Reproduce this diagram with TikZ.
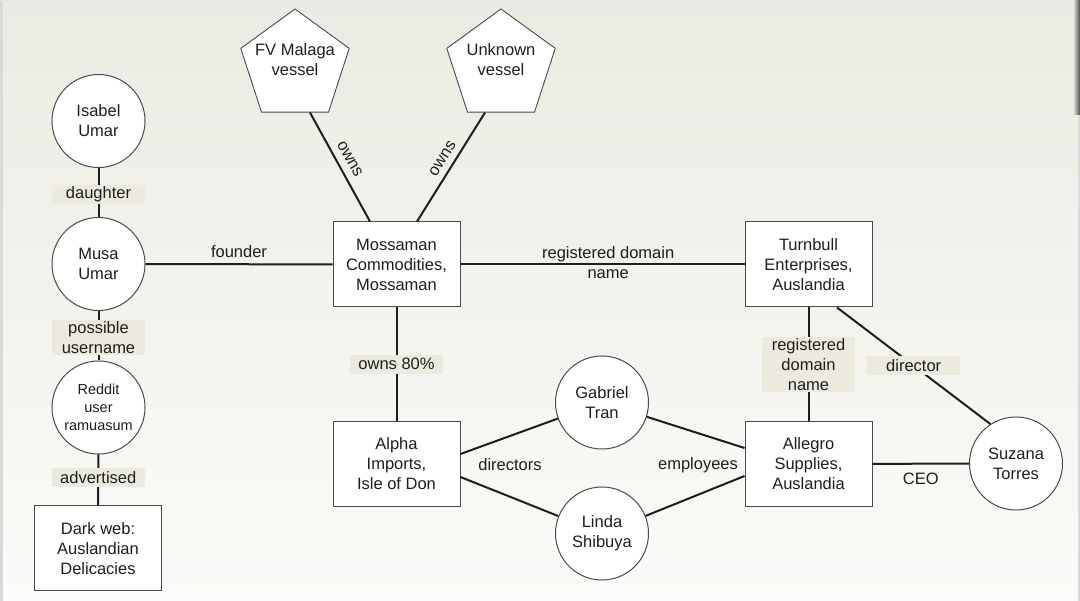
\documentclass[tikz,border=0pt]{standalone}
\usepackage{fontspec}
\setmainfont{Liberation Sans}
\usetikzlibrary{shapes.geometric}
\definecolor{bgtop}{HTML}{EBEAE2}
\definecolor{bgbot}{HTML}{FBFBF9}
\definecolor{lblbg}{HTML}{ECEADF}
\definecolor{ink}{HTML}{1E1E1E}
\definecolor{edgec}{HTML}{4A4A4A}
\begin{document}
\begin{tikzpicture}[x=1pt,y=-1pt,
  base/.style={font=\fontsize{16.5}{20}\selectfont, text=ink, align=center},
  person/.style={base, circle, draw=edgec, line width=1pt, fill=white, minimum size=93pt, inner sep=0pt},
  org/.style={base, rectangle, draw=edgec, line width=1pt, fill=white, minimum width=127pt, minimum height=85pt, inner sep=0pt},
  vessel/.style={regular polygon, regular polygon sides=5, draw=edgec, line width=0.9pt, fill=white, minimum size=114pt, inner sep=0pt},
  conn/.style={draw=ink, line width=2pt},
  lbl/.style={base, fill=lblbg, minimum width=93pt, minimum height=19pt, inner xsep=0pt, inner ysep=1.5pt},
  plain/.style={base, inner sep=2pt}
]
\useasboundingbox (0,0) rectangle (1080,601);
\shade[top color=bgtop, bottom color=bgbot] (0,0) rectangle (1080,601);
\fill[gray!30] (0,0) rectangle (2.5,601);
\fill[gray!20] (0,0) rectangle (1080,1.5);
\shade[left color=bgtop, right color=black!70] (1073,0) rectangle (1080,115);
\fill[gray!30] (1078,115) rectangle (1080,601);

% nodes
\node[person] (isabel) at (98.5,121) {Isabel\\Umar};
\node[person] (musa) at (98.5,264) {Musa\\Umar};
\node[person, font=\fontsize{14.5}{18}\selectfont] (reddit) at (98.5,407.5) {Reddit\\user\\ramuasum};
\node[org] (dark) at (98,548.5) {Dark web:\\Auslandian\\Delicacies};
\node[org] (moss) at (396.5,264.5) {Mossaman\\Commodities,\\Mossaman};
\node[org] (turn) at (808.5,264.5) {Turnbull\\Enterprises,\\Auslandia};
\node[org] (alpha) at (396.5,464) {Alpha\\Imports,\\Isle of Don};
\node[org] (allegro) at (808.5,464) {Allegro\\Supplies,\\Auslandia};
\node[person] (gabriel) at (602,402.5) {Gabriel\\Tran};
\node[person] (linda) at (602,533.5) {Linda\\Shibuya};
\node[person] (suzana) at (1016,463.5) {Suzana\\Torres};
\node[vessel, label={[base, yshift=6pt]center:FV Malaga\\vessel}] (fv) at (295,66) {};
\node[vessel, label={[base, yshift=6pt]center:Unknown\\vessel}] (unk) at (501,66) {};

% connectors
\draw[conn] (isabel) -- node[lbl, pos=0.54] {daughter} (musa);
\draw[conn] (musa) -- node[plain, above=4pt, pos=0.5] {founder} (moss);
\draw[conn] (musa) -- node[lbl, pos=0.53] {possible\\username} (reddit);
\draw[conn] (reddit) -- node[lbl, pos=0.45] {advertised} (dark);
\draw[conn] ([xshift=15pt]fv.south) -- node[plain, sloped, above=5pt, pos=0.48] {owns} ([xshift=-26.5pt]moss.north);
\draw[conn] ([xshift=20.5pt]moss.north) -- node[plain, sloped, above=4pt, pos=0.52] {owns} ([xshift=-16pt]unk.south);
\draw[conn] (moss) -- node[plain, pos=0.52, yshift=2pt] {registered domain\\name} (turn);
\draw[conn] (moss) -- node[lbl] {owns 80\%} (alpha);
\draw[conn] (turn) -- node[lbl] {registered\\domain\\name} (allegro);
\draw[conn] ([xshift=28.5pt]turn.south) -- node[lbl, pos=0.5] {director} (suzana.123);
\draw[conn] (allegro) -- node[plain, below=6pt] {CEO} (suzana);
\draw[conn] ([yshift=10pt]alpha.east) -- (gabriel);
\draw[conn] ([yshift=-13pt]alpha.east) -- (linda);
\draw[conn] (gabriel) -- ([yshift=16pt]allegro.west);
\draw[conn] (linda) -- ([yshift=-12pt]allegro.west);
\node[plain] (directors) at (510,465) {directors};
\node[plain] (employees) at (698,465) {employees};
\end{tikzpicture}
\end{document}
